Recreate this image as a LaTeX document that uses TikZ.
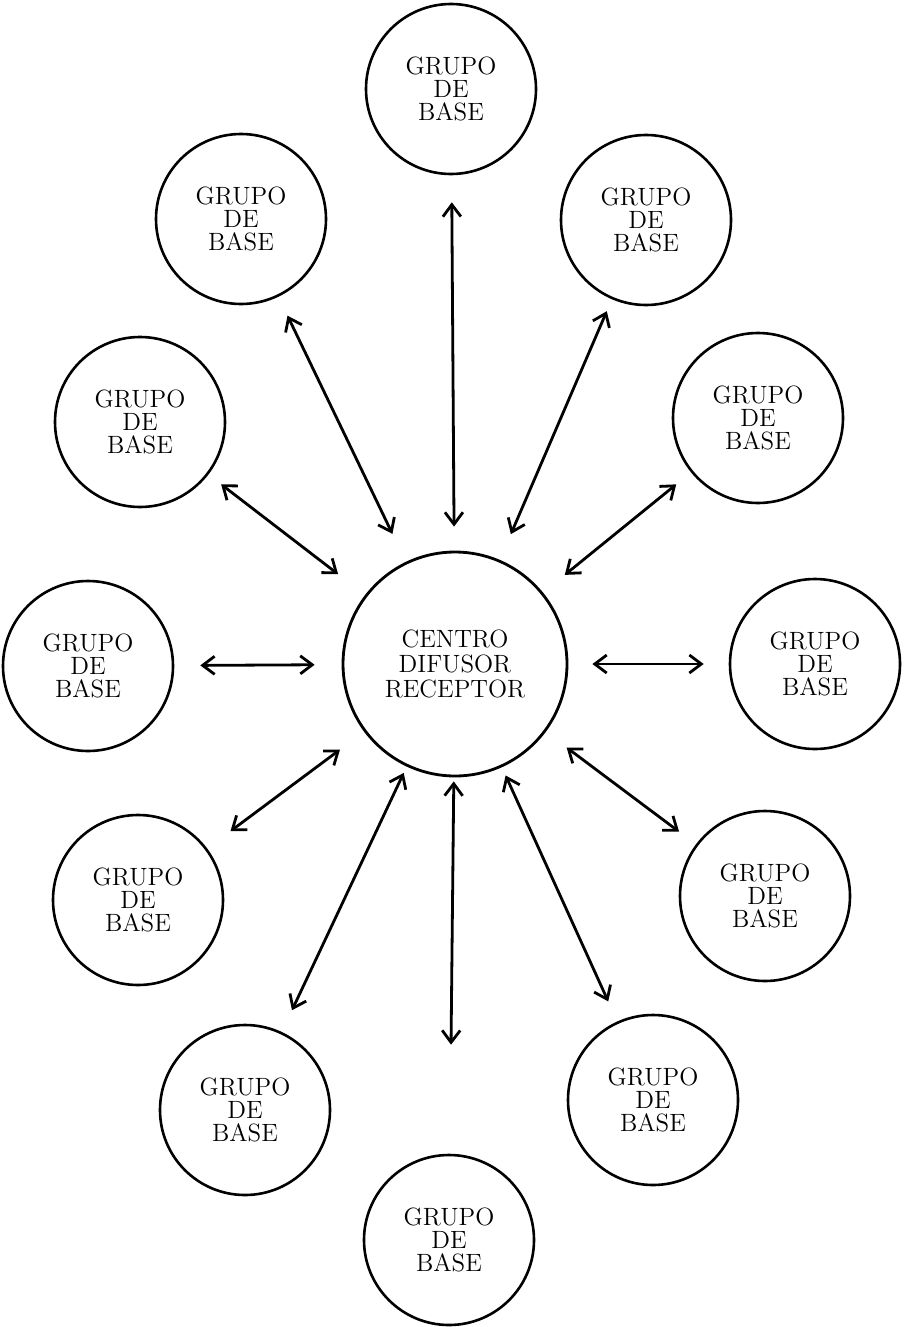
\documentclass[tikz,border=0pt]{standalone}
\usetikzlibrary{arrows.meta, positioning}
\tikzset{
  grupo/.style={circle, draw=black, line width=1.3pt, minimum size=85pt, inner sep=0pt, align=center, font=\fontsize{12.5}{11.5}\selectfont},
  centro/.style={circle, draw=black, line width=1.4pt, minimum size=112pt, inner sep=0pt, align=center, font=\fontsize{12.5}{12.5}\selectfont},
  link/.style={{Straight Barb[length=6pt,width=9pt]}-{Straight Barb[length=6pt,width=9pt]}, line width=1.4pt}
}

\begin{document}
\begin{tikzpicture}[x=0.5pt, y=-0.5pt]
        \useasboundingbox (0,0) rectangle (905,1327);
        % Central node
        \node[centro] (centro) at (455,664) {CENTRO\\DIFUSOR\\RECEPTOR};

        % Base groups, clockwise from the top
        \node[grupo] (gtop) at (451,89) {GRUPO\\DE\\BASE};
        \node[grupo] (gtr) at (646,220) {GRUPO\\DE\\BASE};
        \node[grupo] (gur) at (758,418) {GRUPO\\DE\\BASE};
        \node[grupo] (gmr) at (815,664) {GRUPO\\DE\\BASE};
        \node[grupo] (glr) at (765,896) {GRUPO\\DE\\BASE};
        \node[grupo] (gbr) at (653,1100) {GRUPO\\DE\\BASE};
        \node[grupo] (gbot) at (449,1240) {GRUPO\\DE\\BASE};
        \node[grupo] (gbl) at (245,1110) {GRUPO\\DE\\BASE};
        \node[grupo] (gll) at (138,900) {GRUPO\\DE\\BASE};
        \node[grupo] (gml) at (88,666) {GRUPO\\DE\\BASE};
        \node[grupo] (gul) at (140,422) {GRUPO\\DE\\BASE};
        \node[grupo] (gtl) at (241,219) {GRUPO\\DE\\BASE};

        % Two-way arrows
        \draw[link, shorten <=12pt, shorten >=13.5pt] (centro) -- (gtop);
        \draw[link, shorten <=14pt, shorten >=6.5pt] (centro) -- (gtr);
        \draw[link, shorten <=14pt, shorten >=9.5pt] (centro) -- (gur);
        \draw[link, shorten <=12pt, shorten >=12.5pt] (centro) -- (gmr);
        \draw[link, shorten <=13pt, shorten >=10.5pt] (centro) -- (glr);
        \draw[link, shorten <=4.5pt, shorten >=11pt] (centro) -- (gbr);
        \draw[link, shorten <=2pt, shorten >=54.5pt] (centro) -- (gbot);
        \draw[link, shorten <=3.5pt, shorten >=12pt] (centro) -- (gbl);
        \draw[link, shorten <=15pt, shorten >=14.5pt] (centro) -- (gll);
        \draw[link, shorten <=13.5pt, shorten >=13pt] (centro) -- (gml);
        \draw[link, shorten <=17pt, shorten >=8pt] (centro) -- (gul);
        \draw[link, shorten <=15.5pt, shorten >=10.5pt] (centro) -- (gtl);

    \end{tikzpicture}
\end{document}
